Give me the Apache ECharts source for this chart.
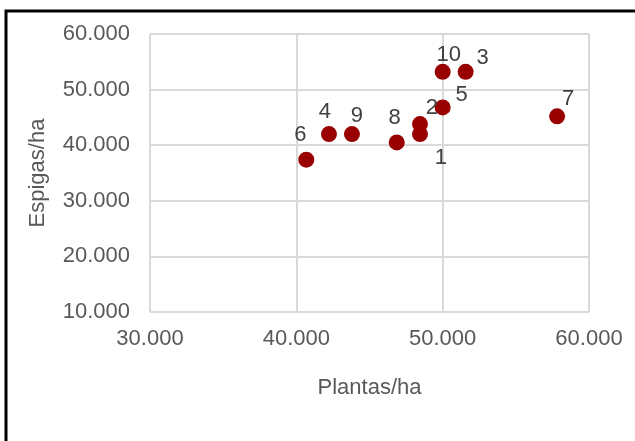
<!DOCTYPE html>
<html>
<head>
<meta charset="utf-8">
<script src="https://cdn.jsdelivr.net/npm/echarts@6/dist/echarts.min.js"></script>
<style>
  html, body { margin: 0; padding: 0; background: #fff; }
  #chart { width: 635px; height: 441px; }
</style>
</head>
<body>
<div id="chart"></div>
<script>
// Plot identifiers and density measurements
const pointIds = ['1', '2', '3', '4', '5', '6', '7', '8', '9', '10'];
const plantasHa = [48450, 48450, 51570, 42230, 50000, 40680, 57820, 46860, 43800, 50000];
const espigasHa = [42000, 43800, 53200, 42000, 46800, 37400, 45200, 40500, 42000, 53200];

// Label placement around each marker (pixels, relative to marker centre)
const labelOffsets = [
  [21, 24], [12, -16], [17, -14], [-4, -22], [19, -12],
  [-6, -25], [11, -17], [-2, -24], [5, -18], [6, -17]
];

// Thousands separated by a period: 40000 -> "40.000"
const fmtThousands = v => String(Math.round(v)).replace(/\B(?=(\d{3})+(?!\d))/g, '.');

const FONT = 'Liberation Sans, Arial, sans-serif';
const TXT = '#595959';

const data = pointIds.map((id, i) => ({
  value: [plantasHa[i], espigasHa[i]],
  name: id,
  label: { offset: labelOffsets[i] }
}));

const chart = echarts.init(document.getElementById('chart'), null, { renderer: 'canvas' });
chart.setOption({
  animation: false,
  backgroundColor: '#fff',
  grid: { left: 150, right: 46, top: 34, bottom: 129, containLabel: false },
  xAxis: {
    type: 'value', min: 30000, max: 60000, interval: 10000,
    name: 'Plantas/ha', nameLocation: 'middle', nameGap: 65,
    nameTextStyle: { color: TXT, fontSize: 22, fontFamily: FONT },
    axisLine: { show: false }, axisTick: { show: false },
    axisLabel: { color: TXT, fontSize: 22, fontFamily: FONT, margin: 16, formatter: fmtThousands },
    splitLine: { show: true, lineStyle: { color: '#d9d9d9', width: 2 } }
  },
  yAxis: {
    type: 'value', min: 10000, max: 60000, interval: 10000,
    name: 'Espigas/ha', nameLocation: 'middle', nameGap: 101,
    nameTextStyle: { color: TXT, fontSize: 22, fontFamily: FONT },
    axisLine: { show: false }, axisTick: { show: false },
    axisLabel: { color: TXT, fontSize: 22, fontFamily: FONT, margin: 20, formatter: fmtThousands },
    splitLine: { show: true, lineStyle: { color: '#d9d9d9', width: 2 } }
  },
  series: [{
    type: 'scatter',
    symbol: 'circle',
    symbolSize: 16,
    itemStyle: { color: '#990000', opacity: 1 },
    label: {
      show: true, position: 'inside',
      formatter: p => p.name,
      color: '#404040', fontSize: 22, fontFamily: FONT
    },
    data: data
  }],
  graphic: [{
    type: 'rect',
    shape: { x: 6, y: 11, width: 700, height: 500 },
    style: { fill: 'none', stroke: '#000', lineWidth: 3 },
    silent: true
  }]
});
</script>
</body>
</html>
